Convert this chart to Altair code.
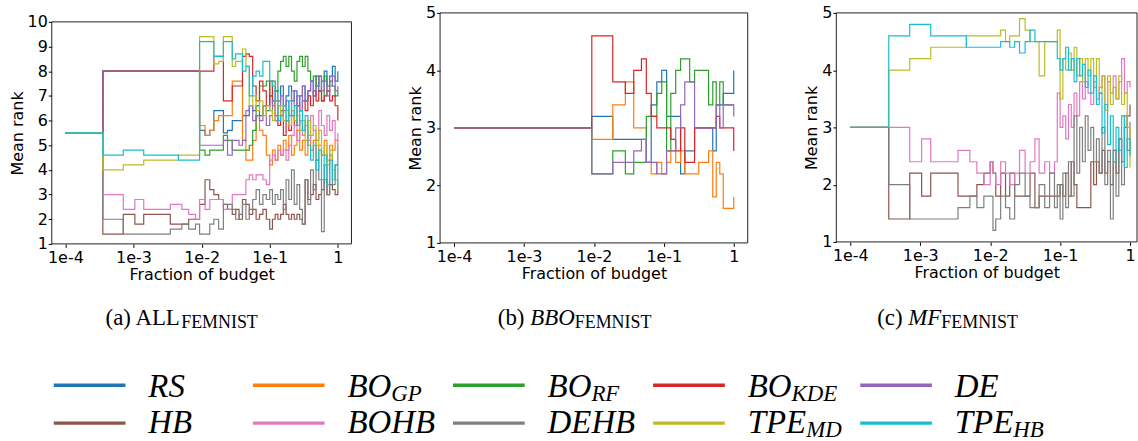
import altair as alt
import pandas as pd

METHODS = ["RS", "BO_GP", "BO_RF", "BO_KDE", "DE", "HB", "BOHB", "DEHB", "TPE_MD", "TPE_HB"]
COLORS = ["#1f77b4", "#ff7f0e", "#2ca02c", "#d62728", "#9467bd",
          "#8c564b", "#e377c2", "#7f7f7f", "#bcbd22", "#17becf"]
LEGEND_MAIN = ["RS", "BO", "BO", "BO", "DE", "HB", "BOHB", "DEHB", "TPE", "TPE"]
LEGEND_SUB = ["", "GP", "RF", "KDE", "", "", "", "", "MD", "HB"]
X_TICKS = [1e-4, 1e-3, 1e-2, 1e-1, 1]

# ---------------- panel (a): ALL methods (log10 of fraction of budget) -------------
A_LOG = [-4, -3.45, -3.15, -2.98, -2.85, -2.46, -2.34, -2.29, -2.19, -2.09,
         -2.03, -1.95, -1.88, -1.82, -1.75, -1.68, -1.62, -1.55, -1.5, -1.45,
         -1.4, -1.35, -1.3, -1.25, -1.2, -1.15, -1.1, -1.05, -1.0, -0.96,
         -0.92, -0.88, -0.84, -0.8, -0.76, -0.72, -0.68, -0.64, -0.6, -0.56,
         -0.52, -0.48, -0.44, -0.4, -0.36, -0.32, -0.28, -0.24, -0.2, -0.16,
         -0.12, -0.08, -0.04, 0]
A_RS = [5.5, 8, 8, 8, 8, 8, 8, 8, 8, 8,
        5.6, 5.4, 5.6, 6.4, 6.4, 5.5, 5.6, 6.0, 6.0, 6.0,
        6.2, 6.2, 6.6, 6.4, 6.6, 6.2, 6.6, 6.4, 7.0, 6.6,
        7.2, 6.8, 7.4, 6.6, 7.0, 7.4, 6.8, 7.2, 6.6, 7.0,
        7.4, 6.8, 7.2, 7.6, 7.0, 7.8, 7.2, 7.6, 8.0, 7.4,
        7.8, 8.2, 7.6, 8.0]
A_GP = [5.5, 8, 8, 8, 8, 8, 8, 8, 8, 8,
        5.8, 5.4, 5.6, 6.0, 6.2, 6.2, 6.2, 7.6, 7.6, 7.6,
        5.2, 4.4, 4.4, 5.2, 6.2, 5.6, 5.4, 4.6, 4.2, 4.8,
        4.4, 5.0, 4.6, 5.2, 4.8, 5.4, 4.6, 5.0, 5.6, 4.8,
        5.2, 4.6, 5.4, 4.8, 5.2, 4.4, 5.0, 4.6, 5.2, 4.4,
        5.0, 4.8, 5.2, 5.0]
A_RF = [5.5, 8, 8, 8, 8, 8, 8, 8, 8, 8,
        4.8, 4.6, 4.8, 4.8, 4.8, 5.4, 5.2, 4.8, 4.8, 4.8,
        4.8, 4.8, 5.0, 5.6, 6.6, 7.4, 7.4, 7.6, 7.0, 7.6,
        7.2, 8.0, 8.4, 8.6, 8.2, 8.6, 8.0, 7.6, 8.4, 8.6,
        8.2, 8.6, 8.0, 7.6, 7.8, 7.4, 7.8, 6.8, 7.8, 7.2,
        7.6, 7.4, 7.0, 7.2]
A_KDE = [5.5, 8, 8, 8, 8, 8, 8, 8, 8, 8,
         8.0, 8.0, 8.0, 8.6, 8.6, 6.8, 6.8, 7.4, 7.4, 7.4,
         8.6, 8.7, 8.6, 7.4, 6.8, 7.6, 7.2, 6.6, 7.6, 6.8,
         6.2, 5.8, 6.4, 5.4, 6.0, 5.6, 6.2, 5.8, 6.6, 6.4,
         6.8, 6.4, 7.0, 6.6, 7.2, 6.8, 7.2, 6.8, 7.0, 7.2,
         6.8, 7.0, 6.6, 6.0]
A_DE = [5.5, 8, 8, 8, 8, 8, 8, 8, 8, 8,
        5.0, 5.0, 5.0, 5.0, 5.0, 5.2, 4.6, 5.2, 5.2, 5.0,
        5.2, 6.4, 6.6, 6.0, 6.2, 6.0, 6.6, 5.8, 6.2, 6.8,
        6.0, 6.6, 7.0, 6.4, 6.8, 6.2, 7.2, 6.6, 7.0, 6.4,
        7.4, 6.8, 7.2, 7.6, 7.0, 7.4, 7.8, 7.2, 7.6, 7.0,
        7.4, 7.8, 7.2, 7.4]
A_HB = [5.5, 1.4, 2.2, 1.8, 2.2, 1.8, 1.8, 1.8, 2.0, 2.0,
        2.6, 3.6, 3.2, 3.0, 2.8, 2.6, 2.4, 2.2, 2.4, 2.0,
        2.8, 2.6, 2.2, 2.4, 2.0, 2.2, 2.4, 2.0, 1.6, 2.0,
        2.2, 2.0, 2.2, 2.6, 2.2, 2.0, 2.2, 2.0, 2.2, 2.0,
        1.8, 3.6, 2.8, 3.0, 3.4, 2.8, 3.0, 3.2, 3.6, 3.0,
        3.4, 3.2, 3.0, 3.3]
A_BOHB = [5.5, 3.0, 2.4, 2.8, 2.4, 2.6, 2.6, 2.4, 2.2, 2.0,
          2.8, 2.4, 2.8, 2.8, 2.8, 2.4, 2.4, 3.0, 3.0, 3.0,
          3.0, 3.6, 3.8, 3.6, 3.8, 3.8, 3.6, 3.4, 4.4, 4.6,
          4.4, 4.8, 4.6, 4.8, 4.4, 5.0, 5.4, 5.8, 5.2, 6.0,
          5.4, 5.8, 5.2, 6.2, 5.6, 5.2, 6.4, 5.8, 5.4, 6.2,
          5.6, 6.0, 5.2, 5.5]
A_DEHB = [5.5, 2.0, 1.4, 1.4, 1.4, 1.6, 1.6, 1.8, 1.6, 1.8,
          1.4, 1.4, 1.8, 2.0, 1.6, 2.6, 2.6, 2.4, 2.0, 2.2,
          2.6, 2.0, 2.4, 2.8, 3.2, 2.6, 3.0, 2.8, 3.2, 2.6,
          3.0, 2.8, 3.2, 2.4, 3.6, 2.8, 4.0, 2.6, 3.4, 2.4,
          1.8, 3.6, 2.6, 4.0, 3.2, 4.4, 3.6, 1.5, 4.2, 3.0,
          4.6, 3.4, 4.2, 5.0]
A_TPEMD = [5.5, 4.0, 4.2, 4.2, 4.4, 4.4, 4.6, 4.6, 4.6, 4.6,
           9.4, 9.4, 9.4, 8.3, 8.4, 9.4, 9.4, 8.2, 8.4, 8.4,
           8.9, 8.2, 6.6, 7.0, 6.4, 6.8, 6.2, 6.6, 6.4, 6.0,
           6.8, 6.2, 6.6, 6.0, 6.4, 5.8, 6.4, 6.0, 6.2, 5.6,
           6.0, 5.2, 6.0, 5.4, 5.8, 5.0, 5.6, 4.6, 5.0, 4.2,
           4.8, 4.0, 3.6, 3.2]
A_TPEHB = [5.5, 4.6, 4.8, 4.8, 4.6, 4.6, 4.4, 4.4, 4.4, 4.4,
           9.2, 9.2, 9.2, 8.6, 8.6, 9.2, 9.2, 8.5, 8.7, 8.7,
           8.0, 8.2, 7.0, 7.8, 8.0, 7.8, 8.4, 8.4, 7.6, 7.4,
           6.8, 6.0, 6.2, 6.6, 6.0, 6.8, 6.2, 6.6, 5.8, 6.4,
           5.6, 6.2, 5.0, 4.4, 5.0, 4.0, 4.8, 3.6, 4.6, 3.4,
           4.4, 3.6, 4.2, 3.3]

# ---------------- panel (b): black-box methods -------------
B_LOG = [-4, -2.03, -1.73, -1.55, -1.43, -1.32, -1.25, -1.18, -1.1, -1.03,
         -0.96, -0.9, -0.83, -0.76, -0.7, -0.63, -0.56, -0.5, -0.43, -0.36,
         -0.3, -0.25, -0.2, -0.15, -0.1, -0.05, 0]
B_RS = [3.0, 3.2, 2.8, 2.8, 2.8, 2.8, 2.4, 3.4, 3.8, 4.0,
        3.2, 3.2, 3.2, 2.2, 2.6, 2.6, 3.0, 3.0, 3.0, 3.0,
        2.6, 3.4, 3.4, 3.6, 3.6, 3.6, 4.0]
B_GP = [3.0, 2.8, 3.4, 3.8, 3.0, 3.0, 2.4, 2.2, 2.4, 2.2,
        2.4, 2.6, 2.4, 2.6, 2.2, 2.2, 2.2, 2.4, 2.4, 2.6,
        1.8, 2.4, 2.2, 1.6, 1.6, 1.6, 1.8]
B_RF = [3.0, 2.2, 2.6, 2.2, 2.4, 2.4, 3.2, 3.2, 3.6, 3.8,
        2.6, 3.6, 4.0, 4.2, 4.2, 3.8, 4.0, 4.0, 4.0, 3.4,
        3.8, 3.4, 3.8, 3.4, 3.4, 3.4, 3.4]
B_KDE = [3.0, 4.6, 3.8, 3.6, 4.0, 4.2, 3.6, 3.2, 3.0, 3.0,
         3.0, 2.8, 2.6, 3.0, 2.4, 2.4, 3.0, 3.0, 3.0, 3.0,
         3.0, 3.2, 3.0, 3.0, 3.0, 3.0, 2.6]
B_DE = [3.0, 2.2, 2.4, 2.4, 2.6, 2.8, 2.4, 2.4, 2.2, 2.2,
        2.6, 2.6, 3.0, 3.4, 3.8, 3.8, 3.0, 3.0, 3.0, 3.0,
        3.0, 3.4, 3.0, 3.4, 3.4, 3.4, 3.2]

# ---------------- panel (c): multi-fidelity methods -------------
C_LOG = [-4, -3.45, -3.15, -2.98, -2.85, -2.46, -2.34, -2.29, -2.19, -2.09,
         -2.0, -1.96, -1.92, -1.85, -1.78, -1.72, -1.65, -1.58, -1.5, -1.43,
         -1.36, -1.3, -1.22, -1.15, -1.08, -1.04, -1.0, -0.96, -0.92, -0.88,
         -0.84, -0.8, -0.76, -0.72, -0.68, -0.64, -0.6, -0.56, -0.52, -0.48,
         -0.44, -0.4, -0.36, -0.32, -0.28, -0.24, -0.2, -0.16, -0.12, -0.08,
         -0.04, 0]
C_HB = [3.0, 1.4, 2.2, 1.8, 2.2, 1.8, 1.8, 1.8, 2.0, 2.2,
        2.4, 2.2, 1.8, 2.2, 1.8, 2.2, 1.8, 1.8, 1.8, 2.2,
        1.6, 1.8, 1.8, 1.8, 1.8, 1.8, 2.0, 1.8, 2.2, 1.8,
        2.4, 2.0, 1.6, 1.6, 1.6, 1.6, 1.6, 2.4, 2.0, 2.4,
        2.2, 2.6, 2.2, 2.4, 2.0, 2.6, 2.2, 2.8, 2.4, 3.0,
        3.2, 3.4]
C_BOHB = [3.0, 3.0, 2.4, 2.8, 2.4, 2.6, 2.6, 2.4, 2.2, 2.0,
          2.4, 2.2, 2.0, 2.4, 2.2, 2.0, 2.2, 2.6, 2.2, 2.4,
          2.8, 2.2, 2.4, 2.2, 2.4, 3.6, 3.0, 3.2, 2.8, 3.4,
          3.0, 3.6, 3.2, 3.8, 3.5, 3.8, 3.6, 3.4, 3.8, 3.5,
          3.7, 3.9, 3.4, 3.8, 3.6, 3.9, 3.5, 3.8, 4.2, 3.6,
          3.8, 3.7]
C_DEHB = [3.0, 2.0, 1.4, 1.4, 1.4, 1.6, 1.6, 1.8, 1.6, 1.8,
          1.8, 1.2, 1.4, 1.8, 1.6, 1.4, 2.0, 2.2, 1.8, 1.6,
          1.6, 2.0, 1.6, 2.2, 1.6, 2.0, 1.4, 2.2, 1.6, 2.4,
          1.8, 3.2, 2.2, 3.0, 2.4, 3.2, 2.6, 3.0, 2.4, 2.8,
          2.2, 3.0, 2.0, 2.6, 1.4, 2.4, 1.8, 2.8, 2.0, 3.2,
          2.6, 3.1]
C_TPEMD = [3.0, 4.0, 4.2, 4.2, 4.4, 4.4, 4.6, 4.6, 4.6, 4.6,
           4.6, 4.6, 4.6, 4.7, 4.5, 4.6, 4.6, 4.9, 4.7, 4.5,
           4.5, 3.9, 4.5, 4.5, 4.5, 4.7, 3.5, 4.2, 4.0, 4.3,
           4.0, 4.4, 3.9, 4.2, 3.8, 4.2, 3.9, 4.2, 3.7, 4.2,
           3.6, 3.9, 3.3, 3.9, 3.4, 3.7, 3.5, 3.9, 3.4, 3.6,
           3.0, 2.3]
C_TPEHB = [3.0, 4.6, 4.8, 4.8, 4.6, 4.6, 4.4, 4.4, 4.4, 4.4,
           4.4, 4.4, 4.4, 4.5, 4.5, 4.4, 4.5, 4.3, 4.5, 4.7,
           4.5, 4.5, 4.5, 4.5, 4.5, 4.2, 4.0, 4.2, 4.4, 4.0,
           4.2, 3.8, 4.2, 3.9, 4.1, 3.7, 4.0, 3.6, 3.9, 3.4,
           3.6, 2.9, 3.4, 2.7, 3.2, 2.4, 3.0, 2.6, 3.2, 2.3,
           2.8, 2.5]


def long_df(logs, series):
    rows = []
    for m, vals in series.items():
        assert len(vals) == len(logs), m
        for l, v in zip(logs, vals):
            rows.append({"method": m, "budget": 10 ** l, "rank": v})
    return pd.DataFrame(rows)


df_a = long_df(A_LOG, dict(zip(METHODS, [A_RS, A_GP, A_RF, A_KDE, A_DE, A_HB,
                                         A_BOHB, A_DEHB, A_TPEMD, A_TPEHB])))
df_b = long_df(B_LOG, dict(zip(METHODS[:5], [B_RS, B_GP, B_RF, B_KDE, B_DE])))
df_c = long_df(C_LOG, dict(zip(METHODS[5:], [C_HB, C_BOHB, C_DEHB, C_TPEMD, C_TPEHB])))

X_LABEL = "datum.value > 0.5 ? '1' : '1e' + round(log(datum.value) / LN10)"


def panel(df, methods, width, height, ymax, top, xmax_exp):
    x = alt.X("budget:Q",
              scale=alt.Scale(type="log", domain=[10 ** -4.2, 10 ** xmax_exp], nice=False),
              axis=alt.Axis(values=X_TICKS, labelExpr=X_LABEL, title="Fraction of budget"))
    y = alt.Y("rank:Q",
              scale=alt.Scale(domain=[1, ymax], range=[height, top], nice=False, zero=False),
              axis=alt.Axis(values=list(range(1, ymax + 1)), format="d", title="Mean rank"))
    layers = []
    for m in methods:
        col = COLORS[METHODS.index(m)]
        layers.append(
            alt.Chart(df).transform_filter(alt.datum.method == m)
            .mark_line(interpolate="step-after", strokeWidth=1.2, color=col)
            .encode(x=x, y=y)
        )
    frame = alt.Chart(pd.DataFrame({"k": [0]})).mark_rect(
        filled=False, stroke="#222222", strokeWidth=1
    ).encode(x=alt.value(0), x2=alt.value(width), y=alt.value(top), y2=alt.value(height))
    return alt.layer(*layers, frame).properties(width=width, height=height)


pa = panel(df_a, METHODS, 301, 232, 10, 9, 0.2)
pb = panel(df_b, METHODS[:5], 309, 231, 5, 0, 0.2)
pc = panel(df_c, METHODS[5:], 302, 230, 5, 0, 0.1)

# ---------------- bottom annotations: sub-captions and legend -------------
ORIGIN_X, ORIGIN_Y = 51, 290
TIMES_R = {"(": 333, ")": 333, "a": 444, "b": 500, "c": 444, " ": 250, "A": 722,
           "L": 611, "F": 556, "E": 611, "M": 889, "N": 722, "I": 333, "S": 556, "T": 611}
TIMES_I = {"A": 611, "B": 611, "D": 722, "E": 611, "F": 611, "G": 722, "H": 722,
           "K": 667, "M": 833, "O": 722, "P": 611, "R": 611, "S": 500, "T": 556}


def text_w(s, table, size):
    return sum(table[ch] for ch in s) * size / 1000.0


CAP_MAIN, CAP_SUB = 23, 18
captions = [(105, [("(a) ALL", "r"), ("FEMNIST", "s")]),
            (499, [("(b) ", "r"), ("BBO", "i"), ("FEMNIST", "s")]),
            (880, [("(c) ", "r"), ("MF", "i"), ("FEMNIST", "s")])]
cap_rows = []
for x0, parts in captions:
    x = x0
    for txt, style in parts:
        if style == "r":
            cap_rows.append({"x": x - ORIGIN_X, "y": 321 - ORIGIN_Y, "t": txt, "k": "r"})
            x += text_w(txt, TIMES_R, CAP_MAIN)
        elif style == "i":
            cap_rows.append({"x": x - ORIGIN_X, "y": 321 - ORIGIN_Y, "t": txt, "k": "i"})
            x += text_w(txt, TIMES_I, CAP_MAIN)
        else:
            cap_rows.append({"x": x - ORIGIN_X, "y": 324 - ORIGIN_Y, "t": txt, "k": "s"})
            x += text_w(txt, TIMES_R, CAP_SUB)
cap_df = pd.DataFrame(cap_rows)

LEG_MAIN, LEG_SUB = 33, 23
COL_LINE_X = [53, 253, 454, 655, 863]
ROW_LINE_Y = [382, 420]
ROW_TEXT_Y = [394, 430]
line_rows, main_rows, sub_rows = [], [], []
for i, m in enumerate(METHODS):
    r, c = divmod(i, 5)
    lx = COL_LINE_X[c]
    line_rows.append({"x": lx - ORIGIN_X, "x2": lx + 72 - ORIGIN_X,
                      "y": ROW_LINE_Y[r] - ORIGIN_Y, "color": COLORS[i]})
    tx = lx + 95
    main_rows.append({"x": tx - ORIGIN_X, "y": ROW_TEXT_Y[r] - ORIGIN_Y, "t": LEGEND_MAIN[i]})
    if LEGEND_SUB[i]:
        sx = tx + text_w(LEGEND_MAIN[i], TIMES_I, LEG_MAIN)
        sub_rows.append({"x": sx - ORIGIN_X, "y": ROW_TEXT_Y[r] + 4 - ORIGIN_Y, "t": LEGEND_SUB[i]})
line_df = pd.DataFrame(line_rows)
main_df = pd.DataFrame(main_rows)
sub_df = pd.DataFrame(sub_rows)

PX = alt.X("x:Q", scale=None, axis=None)
PY = alt.Y("y:Q", scale=None, axis=None)

leg_lines = alt.Chart(line_df).mark_rule(strokeWidth=3.5).encode(
    x=PX, x2="x2:Q", y=PY, color=alt.Color("color:N", scale=None))


def txt_layer(df, font, style, size):
    kw = dict(align="left", baseline="alphabetic", font=font, fontSize=size, color="black")
    if style:
        kw["fontStyle"] = style
    return alt.Chart(df).mark_text(**kw).encode(x=PX, y=PY, text="t:N")


cap_r = txt_layer(cap_df[cap_df.k == "r"], "Liberation Serif", None, CAP_MAIN)
cap_i = txt_layer(cap_df[cap_df.k == "i"], "Liberation Serif", "italic", CAP_MAIN)
cap_s = txt_layer(cap_df[cap_df.k == "s"], "Liberation Serif", None, CAP_SUB)
leg_m = txt_layer(main_df, "Liberation Serif", "italic", LEG_MAIN)
leg_s = txt_layer(sub_df, "Liberation Serif", "italic", LEG_SUB)

bottom = alt.layer(leg_lines, cap_r, cap_i, cap_s, leg_m, leg_s).properties(width=1050, height=150)

chart = alt.vconcat(
    alt.hconcat(pa, pb, pc, spacing=54),
    bottom,
    spacing=10,
).properties(
    padding={"left": 8, "top": 3, "right": 0, "bottom": 0},
    background="white",
).configure_view(
    stroke="transparent"
).configure_axis(
    labelFont="DejaVu Sans", labelFontSize=16, titleFont="DejaVu Sans", titleFontSize=16,
    titleFontWeight="normal", labelColor="black", titleColor="black", tickColor="black",
    tickSize=3.5, tickWidth=1, domain=False, grid=False, labelFlush=False, labelOverlap=False
).configure_axisX(
    labelPadding=2, titlePadding=1
).configure_axisY(
    labelPadding=1, titlePadding=2
)

chart.save("out.html", embed_options={"renderer": "svg", "actions": False})
